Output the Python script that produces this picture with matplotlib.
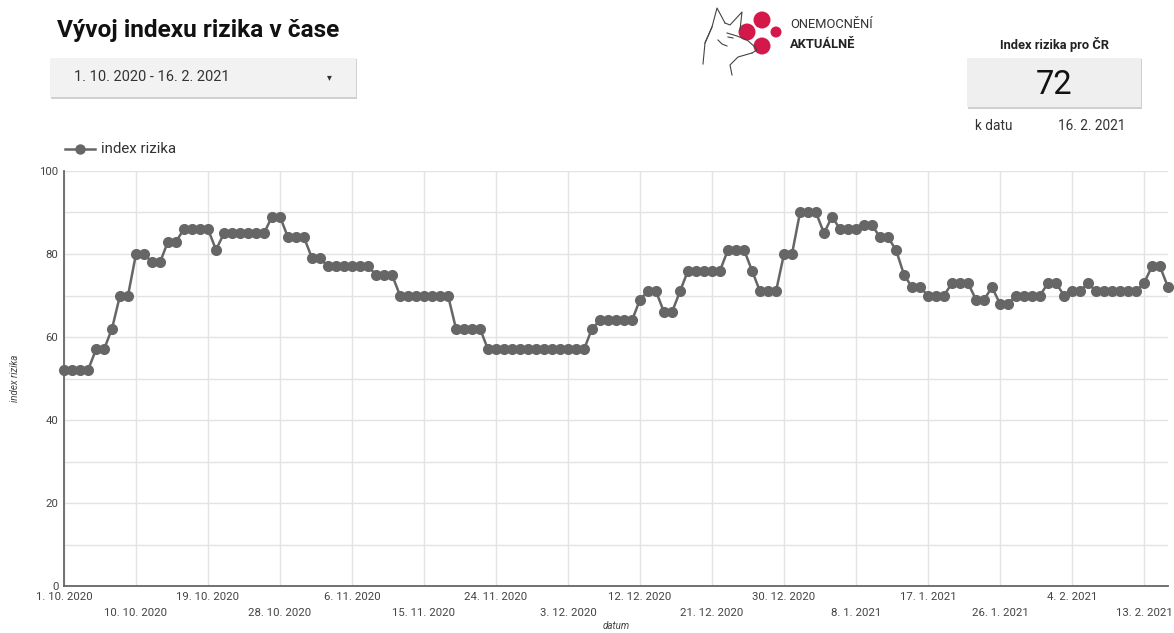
import matplotlib
matplotlib.use("Agg")
import matplotlib.pyplot as plt
import matplotlib.patches as mpatches
import numpy as np
import pandas as pd

plt.rcParams['font.family'] = ['Roboto', 'DejaVu Sans']

# ---- data ----
start_date = "2020-10-01"
index_rizika = [
    52, 52, 52, 52, 57, 57, 62, 70, 70, 80,
    80, 78, 78, 83, 83, 86, 86, 86, 86, 81,
    85, 85, 85, 85, 85, 85, 89, 89, 84, 84,
    84, 79, 79, 77, 77, 77, 77, 77, 77, 75,
    75, 75, 70, 70, 70, 70, 70, 70, 70, 62,
    62, 62, 62, 57, 57, 57, 57, 57, 57, 57,
    57, 57, 57, 57, 57, 57, 62, 64, 64, 64,
    64, 64, 69, 71, 71, 66, 66, 71, 76, 76,
    76, 76, 76, 81, 81, 81, 76, 71, 71, 71,
    80, 80, 90, 90, 90, 85, 89, 86, 86, 86,
    87, 87, 84, 84, 81, 75, 72, 72, 70, 70,
    70, 73, 73, 73, 69, 69, 72, 68, 68, 70,
    70, 70, 70, 73, 73, 70, 71, 71, 73, 71,
    71, 71, 71, 71, 71, 73, 77, 77, 72,
]
dates = pd.date_range(start_date, periods=len(index_rizika), freq="D")
tick_step = 9
y_ticks = [0, 20, 40, 60, 80, 100]
y_grid = [10, 30, 50, 70, 90]
series_name = "index rizika"
title = "Vývoj indexu rizika v čase"
date_range_text = "1. 10. 2020 - 16. 2. 2021"
kpi_title = "Index rizika pro ČR"
kpi_value = "72"
kpi_date_label = "k datu"
kpi_date = "16. 2. 2021"

W, H = 1174, 633
fig = plt.figure(figsize=(W / 100, H / 100), dpi=100)
fig.patch.set_facecolor("white")

def fx(px):
    return px / W

def fy(py):
    return 1 - py / H

# ---- axes ----
ax_l, ax_r, ax_t, ax_b = 64, 1168, 171, 586
ax = fig.add_axes([fx(ax_l), fy(ax_b), fx(ax_r - ax_l), (ax_b - ax_t) / H])
x = np.arange(len(index_rizika))
line_color = "#666666"
ax.plot(x, index_rizika, color=line_color, lw=1.8, marker="o", ms=8,
        markeredgewidth=0, zorder=3, clip_on=False)
ax.set_xlim(0, len(index_rizika) - 1)
ax.set_ylim(0, 100)

tick_idx = list(range(0, len(index_rizika), tick_step))
ax.set_xticks(tick_idx)
labels = []
for k, i in enumerate(tick_idx):
    d = dates[i]
    s = f"{d.day}. {d.month}. {d.year}"
    labels.append(s if k % 2 == 0 else "\n" + s)
ax.set_xticklabels(labels, fontsize=8.2, color="#444444", linespacing=1.7)
ax.tick_params(axis="x", pad=4.5)
ax.set_yticks(y_ticks)
ax.set_yticklabels([str(v) for v in y_ticks], fontsize=8.2, color="#444444")
ax.set_yticks(y_grid, minor=True)
ax.tick_params(axis="both", which="both", length=0)
ax.tick_params(axis="y", pad=4)
ax.grid(True, which="both", color="#e3e3e3", lw=1.0, zorder=0)
for s in ["top", "right"]:
    ax.spines[s].set_visible(False)
for s in ["left", "bottom"]:
    ax.spines[s].set_color("#666666")
    ax.spines[s].set_linewidth(1.3)
ax.set_xlabel("datum", fontsize=7, style="italic", color="#444444", labelpad=2)
ax.set_ylabel("index rizika", fontsize=7, style="italic", color="#444444", labelpad=14)

# ---- legend ----
fig.add_artist(plt.Line2D([fx(65), fx(95)], [fy(149), fy(149)], color=line_color, lw=1.8))
fig.add_artist(plt.Line2D([fx(80)], [fy(149)], color=line_color, marker="o", ms=7.5, markeredgewidth=0))
fig.text(fx(101), fy(149), series_name, fontsize=10.8, color="#333333", va="center", ha="left")

# ---- title ----
fig.text(fx(57), fy(31), title, fontsize=17.6, fontweight="bold", color="#111111",
         va="center", ha="left")

# ---- date range control ----
shadow = mpatches.FancyBboxPatch((fx(51), fy(99)), fx(306), 40 / H, boxstyle="square,pad=0",
                                 transform=fig.transFigure, facecolor="#d0d0d0", edgecolor="none")
fig.add_artist(shadow)
box = mpatches.FancyBboxPatch((fx(50), fy(97)), fx(306), 39 / H, boxstyle="square,pad=0",
                              transform=fig.transFigure, facecolor="#f2f2f2", edgecolor="none")
fig.add_artist(box)
fig.text(fx(74), fy(77), date_range_text, fontsize=10.5, color="#333333", va="center", ha="left")
fig.text(fx(329), fy(77), "▾", fontsize=7, color="#333333", va="center", ha="center",
         family=["DejaVu Sans"])

# ---- logo ----
red = "#d4194a"
for cx, cy, r in [(762, 20, 8.5), (747, 32, 8.5), (776, 32, 5.5), (762, 46, 8.5)]:
    fig.add_artist(mpatches.Ellipse((fx(cx), fy(cy)), 2 * r / W, 2 * r / H,
                                    transform=fig.transFigure, facecolor=red, edgecolor="none"))
dog_lines = [
    ([705, 712, 717, 725], [43, 27, 8, 23]),
    ([725, 730, 742, 740], [23, 25, 12, 30]),
    ([727, 737, 747, 755, 757, 752], [33, 36, 40, 47, 50, 53]),
    ([752, 738, 730, 732], [53, 57, 65, 75]),
    ([712, 705, 703], [27, 43, 64]),
    ([718, 722, 727], [40, 44, 46]),
    ([728, 733], [37, 38]),
]
for xs, ys in dog_lines:
    fig.add_artist(plt.Line2D([fx(v) for v in xs], [fy(v) for v in ys], color="#444444", lw=0.8))
fig.text(fx(790), fy(25), "ONEMOCNĚNÍ", fontsize=9.3, color="#333333", va="center", ha="left")
fig.text(fx(790), fy(44), "AKTUÁLNĚ", fontsize=9.3, fontweight="bold", color="#222222",
         va="center", ha="left")

# ---- KPI box ----
fig.text(fx(1054), fy(45), kpi_title, fontsize=9.3, fontweight="bold", color="#222222",
         va="center", ha="center")
shadow2 = mpatches.FancyBboxPatch((fx(968), fy(109)), fx(174), 50 / H, boxstyle="square,pad=0",
                                  transform=fig.transFigure, facecolor="#cfcfcf", edgecolor="none")
fig.add_artist(shadow2)
box2 = mpatches.FancyBboxPatch((fx(967), fy(107)), fx(174), 49 / H, boxstyle="square,pad=0",
                               transform=fig.transFigure, facecolor="#efefef", edgecolor="none")
fig.add_artist(box2)
fig.text(fx(1054), fy(85), kpi_value, fontsize=23.5, color="#111111", va="center", ha="center")
fig.text(fx(975), fy(126), kpi_date_label, fontsize=9.8, color="#333333", va="center", ha="left")
fig.text(fx(1058), fy(126), kpi_date, fontsize=9.8, color="#333333", va="center", ha="left")

fig.savefig("out.png", dpi=100, facecolor="white")
